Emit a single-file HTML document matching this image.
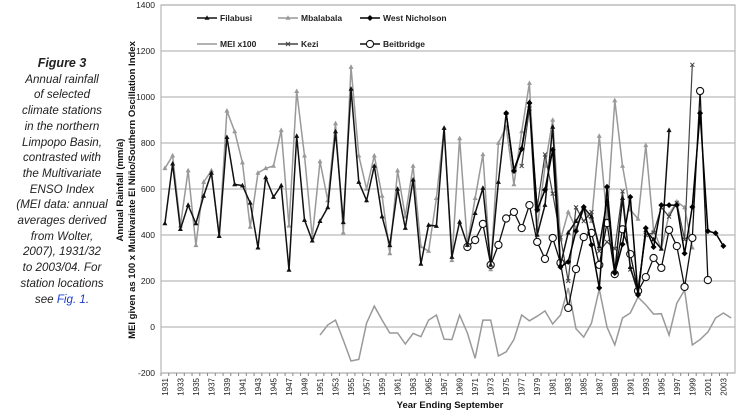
<!DOCTYPE html>
<html><head><meta charset="utf-8">
<style>
body{margin:0;background:#fff;width:740px;height:412px;overflow:hidden;font-family:"Liberation Sans",sans-serif}
#cap{position:absolute;left:0;top:56px;width:124px;text-align:center;font-style:italic;font-size:11.6px;line-height:15.7px;color:#222}
#cap b{font-size:12.5px}
#cap a{color:#1a3ccc;text-decoration:none}
svg{position:absolute;left:0;top:0}
</style></head><body>
<div id="cap"><b>Figure 3</b><br>Annual rainfall<br>of selected<br>climate stations<br>in the northern<br>Limpopo Basin,<br>contrasted with<br>the Multivariate<br>ENSO Index<br>(MEI data: annual<br>averages derived<br>from Wolter,<br>2007), 1931/32<br>to 2003/04. For<br>station locations<br>see <a href="#">Fig. 1</a>.</div>
<svg id="chart" width="740" height="412"></svg>
<script>
const years=[];for(let y=1931;y<=2004;y++)years.push(y);
const yTicks=[-200,0,200,400,600,800,1000,1200,1400];
const filabusi=[450,710,425,530,450,570,670,395,825,620,615,540,345,650,565,615,248,830,465,375,460,520,850,455,1035,630,550,700,480,355,600,430,640,274,443,439,865,304,457,356,495,604,270,630,930,683,778,978,400,530,870,270,410,460,520,480,350,550,240,560,260,150,420,380,340,855,null,null,null,null,null,null,null,null];
const mbalabala=[690,745,440,680,355,630,680,395,940,850,715,435,670,690,700,855,440,1025,745,390,720,550,885,410,1130,745,600,745,570,320,680,480,700,350,330,560,865,290,820,360,560,750,250,800,870,620,850,1060,430,700,900,380,500,430,510,460,830,470,985,700,510,470,790,420,340,490,545,520,345,null,null,null,null,null];
const westNicholson=[null,null,null,null,null,null,null,null,null,null,null,null,null,null,null,null,null,null,null,null,null,null,null,null,null,null,null,null,null,null,null,null,null,null,null,null,null,null,null,null,null,null,null,null,930,678,774,974,509,596,770,261,283,417,522,357,170,609,235,360,565,139,430,348,530,530,530,320,522,930,417,408,352,null];
const kezi=[null,null,null,null,null,null,null,null,null,null,null,null,null,null,null,null,null,null,null,null,null,null,null,null,null,null,null,null,null,null,null,null,null,null,null,null,null,null,null,null,null,null,null,null,null,null,700,950,520,750,580,390,200,520,460,500,330,370,340,590,250,170,400,410,520,480,540,380,1140,null,null,null,null,null];
const beitbridge=[null,null,null,null,null,null,null,null,null,null,null,null,null,null,null,null,null,null,null,null,null,null,null,null,null,null,null,null,null,null,null,null,null,null,null,null,null,null,null,348,378,448,270,357,472,500,430,530,370,296,387,279,83,252,391,409,270,452,230,425,317,157,217,300,257,422,352,174,387,1026,204,null,null,null];
const mei=[null,null,null,null,null,null,null,null,null,null,null,null,null,null,null,null,null,null,null,null,-35,9,30,-57,-148,-141,17,91,30,-26,-26,-74,-28,-42,30,52,-53,-55,52,-26,-136,30,30,-126,-108,-55,52,27,47,70,13,52,170,-8,-44,17,165,0,-78,39,61,130,96,56,58,-35,103,161,-78,-55,-22,39,61,39];
const NS='http://www.w3.org/2000/svg';
const svg=document.getElementById('chart');
const L=161,R=735,T=5,B=373;
const step=(R-L)/years.length;
function xs(i){return L+step*(i+0.5);}
function ys(v){return B-(v+200)/1600*(B-T);}
function mk(tag,attrs,parent){const e=document.createElementNS(NS,tag);for(const k in attrs)e.setAttribute(k,attrs[k]);(parent||svg).appendChild(e);return e;}
// gridlines
yTicks.forEach(v=>{
 const g=mk('line',{x1:L,x2:R,y1:ys(v),y2:ys(v),stroke:'#bbb','stroke-width':1.2});
 
 
 const t=mk('text',{x:L-6,y:ys(v)+3,'text-anchor':'end','font-size':'8.5px',fill:'#222'});
 t.textContent=v;
 
 
});
const box=mk('rect',{x:L,y:T,width:R-L,height:B-T,fill:'none',stroke:'#aaa','stroke-width':1});


years.forEach((y,i)=>{
 mk('line',{x1:L+step*i,x2:L+step*i,y1:B,y2:B+3,stroke:'#888'});
 if(i%2===0){
  const t=mk('text',{transform:`translate(${xs(i)+3},${B+5}) rotate(-90)`,'text-anchor':'end','font-size':'8px',fill:'#222'});
  t.textContent=y;
  
  
 }
});
function series(data,name,color,width,marker){
 const g=mk('g',{});
 
 
 let d='',pen=false;
 data.forEach((v,i)=>{if(v===null){pen=false;return;}d+=(pen?'L':'M')+xs(i).toFixed(1)+','+ys(v).toFixed(1);pen=true;});
 mk('path',{d:d,fill:'none',stroke:color,'stroke-width':width},g);
 data.forEach((v,i)=>{if(v===null)return;drawMarker(g,marker,xs(i),ys(v),color);});
}
function drawMarker(g,m,x,y,c){
 let e;
 if(m==='tri')e=mk('path',{d:`M${x},${y-2.8}L${x+2.5},${y+1.8}L${x-2.5},${y+1.8}Z`,fill:c},g);
 else if(m==='dia')e=mk('path',{d:`M${x},${y-3}L${x+3},${y}L${x},${y+3}L${x-3},${y}Z`,fill:c},g);
 else if(m==='x')e=mk('path',{d:`M${x-2},${y-2}L${x+2},${y+2}M${x+2},${y-2}L${x-2},${y+2}`,stroke:c,'stroke-width':1},g);
 else if(m==='circ')e=mk('circle',{cx:x,cy:y,r:3.6,fill:'#fff',stroke:c,'stroke-width':1.1},g);
 else return;
 
 
}
series(mei,'mei','#999',1.5,null);
series(mbalabala,'mbalabala','#999',1.5,'tri');
series(kezi,'kezi','#444',1.2,'x');
series(beitbridge,'beitbridge','#111',1.3,'circ');
series(filabusi,'filabusi','#111',1.5,'tri');
series(westNicholson,'west-nicholson','#000',1.5,'dia');
// legend
const leg=[['Filabusi','#111','tri',197,18],['Mbalabala','#999','tri',278,18],['West Nicholson','#000','dia',360,18],['MEI x100','#999',null,197,44],['Kezi','#444','x',278,44],['Beitbridge','#111','circ',360,44]];
leg.forEach(l=>{
 const g=mk('g',{});
 
 
 mk('line',{x1:l[3],x2:l[3]+20,y1:l[4],y2:l[4],stroke:l[1],'stroke-width':1.5},g);
 drawMarker(g,l[2],l[3]+10,l[4],l[1]);
 const t=mk('text',{x:l[3]+23,y:l[4]+3,'font-size':'8.5px','font-weight':'bold',fill:'#222'},g);
 t.textContent=l[0];
});
const yt=mk('text',{transform:'translate(123,190) rotate(-90)','text-anchor':'middle','font-size':'9.5px','font-weight':'bold',fill:'#111'});
yt.textContent='Annual Rainfall (mm/a)';


const yt2=mk('text',{transform:'translate(135,190) rotate(-90)','text-anchor':'middle','font-size':'9.5px','font-weight':'bold',fill:'#111'});
yt2.textContent='MEI given as 100 x Multivariate El Niño/Southern Oscillation Index';


const xt=mk('text',{x:450,y:408,'text-anchor':'middle','font-size':'9.5px','font-weight':'bold',fill:'#111'});
xt.textContent='Year Ending September';


</script>
</body></html>
